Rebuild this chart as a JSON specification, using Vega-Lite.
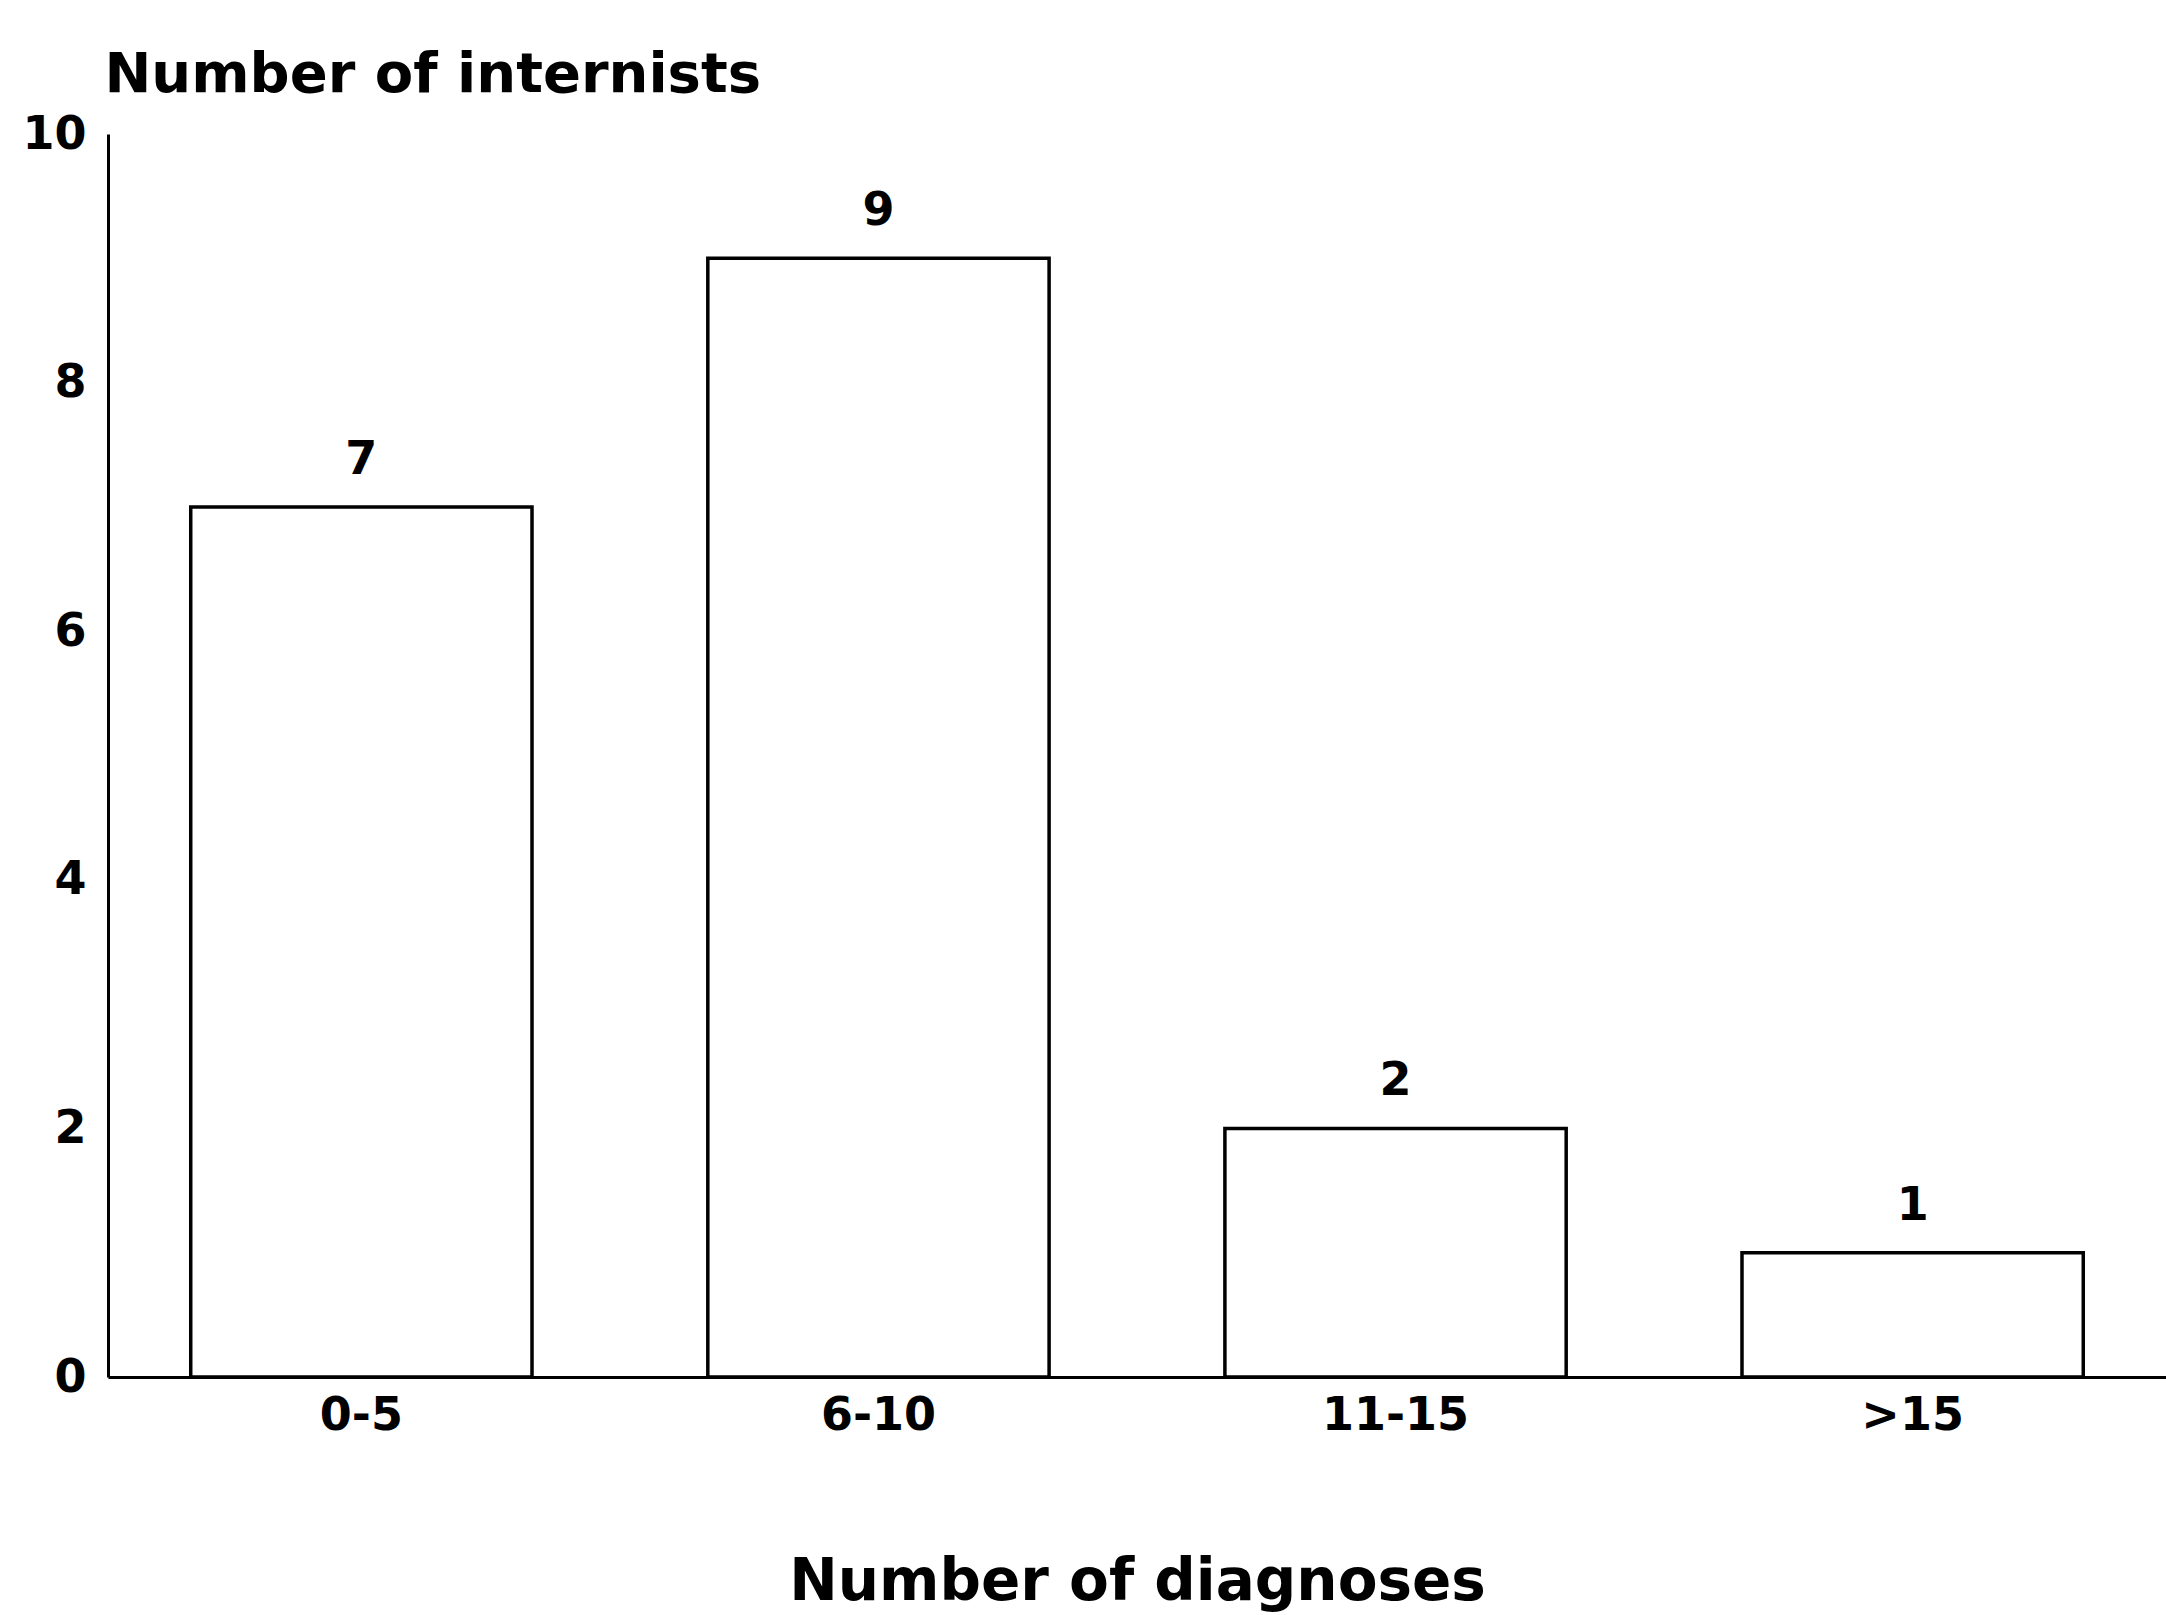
{
  "$schema": "https://vega.github.io/schema/vega-lite/v6.json",
  "autosize": "none",
  "width": 2058,
  "height": 1243,
  "padding": {"left": 108, "top": 134, "right": 0, "bottom": 238},
  "background": "white",
  "config": {
    "view": {"stroke": null},
    "font": "DejaVu Sans",
    "axis": {"grid": false, "ticks": false, "domainColor": "black", "domainWidth": 3, "labelColor": "black", "titleColor": "black", "labelFont": "DejaVu Sans", "titleFont": "DejaVu Sans", "labelFontWeight": "bold", "titleFontWeight": "bold"}
  },
  "data": {
    "values": [
      {"diagnoses": "0-5", "internists": 7},
      {"diagnoses": "6-10", "internists": 9},
      {"diagnoses": "11-15", "internists": 2},
      {"diagnoses": ">15", "internists": 1}
    ]
  },
  "encoding": {
    "x": {
      "field": "diagnoses", "type": "nominal", "sort": null,
      "scale": {"paddingInner": 0.34, "paddingOuter": 0.16},
      "axis": {"title": "Number of diagnoses", "labelAngle": 0, "labelFontSize": 46, "labelPadding": 16, "titleFontSize": 58, "titleY": 222, "titleBaseline": "alphabetic"}
    },
    "y": {
      "field": "internists", "type": "quantitative",
      "scale": {"domain": [0, 10], "nice": false},
      "axis": {"title": "Number of internists", "values": [0, 2, 4, 6, 8, 10], "labelFontSize": 46, "labelPadding": 22, "titleAngle": 0, "titleFontSize": 56, "titleAlign": "left", "titleBaseline": "alphabetic", "titleX": -4, "titleY": -43}
    }
  },
  "layer": [
    {"mark": {"type": "bar", "fill": "white", "stroke": "black", "strokeWidth": 3.5}},
    {"mark": {"type": "text", "baseline": "alphabetic", "dy": -33, "fontSize": 46, "fontWeight": "bold", "color": "black"}, "encoding": {"text": {"field": "internists", "type": "quantitative"}}}
  ]
}
